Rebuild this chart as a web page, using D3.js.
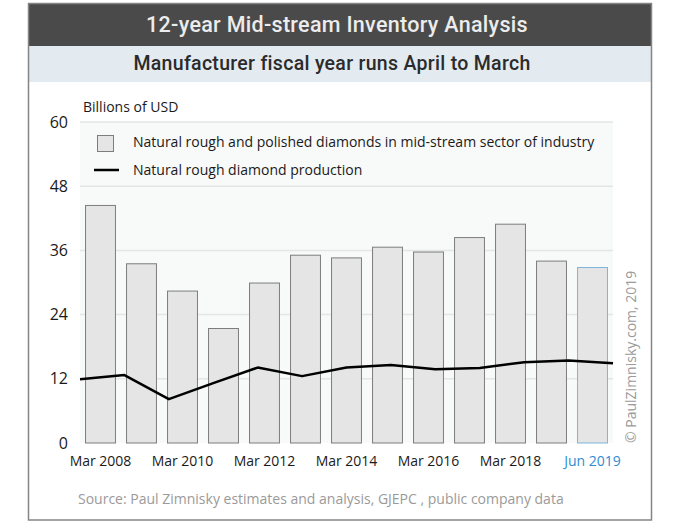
<!DOCTYPE html>
<html>
<head>
<meta charset="utf-8">
<script src="https://cdn.jsdelivr.net/npm/d3@7"></script>
<style>
  html, body { margin: 0; padding: 0; background: #ffffff; }
  svg { display: block; font-family: "Open Sans", "Noto Sans", sans-serif; }
</style>
</head>
<body>
<svg id="chart" width="680" height="526"></svg>
<script>
// ---- data ----
const categories = ["Mar 2008","Mar 2009","Mar 2010","Mar 2011","Mar 2012","Mar 2013","Mar 2014",
                    "Mar 2015","Mar 2016","Mar 2017","Mar 2018","Mar 2019","Jun 2019"];
const inventoryValues = [44.4, 33.5, 28.4, 21.4, 29.9, 35.1, 34.6, 36.6, 35.7, 38.4, 40.9, 34.0, 32.8];
const productionValues = [11.9, 12.7, 8.2, 11.2, 14.1, 12.5, 14.1, 14.6, 13.8, 14.0, 15.1, 15.4, 14.9];
const yTicks = [0, 12, 24, 36, 48, 60];
const xTickLabels = ["Mar 2008","Mar 2010","Mar 2012","Mar 2014","Mar 2016","Mar 2018","Jun 2019"];
const highlightCategory = "Jun 2019";
const titleText = "12-year Mid-stream Inventory Analysis";
const subtitleText = "Manufacturer fiscal year runs April to March";
const unitText = "Billions of USD";
const legendLabels = ["Natural rough and polished diamonds in mid-stream sector of industry",
                      "Natural rough diamond production"];
const sourceText = "Source: Paul Zimnisky estimates and analysis, GJEPC , public company data";
const copyrightText = "\u00A9 PaulZimnisky.com, 2019";

// ---- layout ----
const svg = d3.select("#chart");
const plot = { left: 80, right: 613, top: 122, bottom: 443 };
const frame = { x: 28.5, y: 3.5, w: 623, h: 516.5 };

// frame & header
svg.append("rect").attr("x", frame.x).attr("y", frame.y).attr("width", frame.w).attr("height", 42.5)
  .attr("fill", "#4a4a4a");
svg.append("rect").attr("x", frame.x).attr("y", 46).attr("width", frame.w).attr("height", 36)
  .attr("fill", "#e3eaf0");
svg.append("rect").attr("x", frame.x).attr("y", frame.y).attr("width", frame.w).attr("height", frame.h)
  .attr("fill", "none").attr("stroke", "#858585").attr("stroke-width", 1.5);

svg.append("text").attr("x", 337).attr("y", 31.5).attr("text-anchor", "middle")
  .attr("font-family", "Roboto").attr("fill", "#ececec").attr("font-size", 21.5).attr("font-weight", 500)
  .attr("letter-spacing", 0.3).text(titleText);
svg.append("text").attr("x", 332).attr("y", 70).attr("text-anchor", "middle")
  .attr("font-family", "Roboto").attr("fill", "#2b2b2b").attr("font-size", 19.5).attr("font-weight", 500)
  .attr("letter-spacing", 0.3).text(subtitleText);

// scales
const y = d3.scaleLinear().domain([0, 60]).range([plot.bottom, plot.top]);
const xBand = d3.scaleBand().domain(categories).range([plot.left, plot.right])
  .paddingInner(0.27).paddingOuter(0.135);
const xPoint = d3.scalePoint().domain(categories).range([plot.left, plot.right]).padding(0);

// plot background
svg.append("rect").attr("x", plot.left).attr("y", plot.top)
  .attr("width", plot.right - plot.left).attr("height", plot.bottom - plot.top)
  .attr("fill", "#f8f9f9");

// gridlines
svg.append("g").selectAll("line").data(yTicks.filter(d => d > 0)).join("line")
  .attr("x1", plot.left).attr("x2", plot.right)
  .attr("y1", d => y(d)).attr("y2", d => y(d))
  .attr("stroke", "#e4e6e6").attr("stroke-width", 1.5);

// y axis labels
const yAxis = d3.axisLeft(y).tickValues(yTicks).tickSize(0).tickPadding(12);
const gy = svg.append("g").attr("transform", `translate(${plot.left},0)`).call(yAxis);
gy.select(".domain").remove();
gy.selectAll("text").attr("font-family", "Open Sans").attr("font-size", 16).attr("fill", "#1a1a1a");

svg.append("text").attr("x", 83).attr("y", 112).attr("font-size", 14).attr("fill", "#1a1a1a").text(unitText);

// bars
svg.append("g").selectAll("rect").data(categories).join("rect")
  .attr("x", d => xBand(d)).attr("width", xBand.bandwidth())
  .attr("y", (d, i) => y(inventoryValues[i]))
  .attr("height", (d, i) => y(0) - y(inventoryValues[i]))
  .attr("fill", "#e5e5e5")
  .attr("stroke", d => d === highlightCategory ? "#7db3dd" : "#7d7d7d")
  .attr("stroke-width", 1);

// line
const line = d3.line().x((d, i) => xPoint(categories[i])).y(d => y(d));
svg.append("path").datum(productionValues).attr("d", line)
  .attr("fill", "none").attr("stroke", "#000").attr("stroke-width", 2.5).attr("stroke-linejoin", "round");

// x axis labels
const xAxis = d3.axisBottom(xBand).tickValues(xTickLabels).tickSize(0).tickPadding(13);
const gx = svg.append("g").attr("transform", `translate(0,${plot.bottom})`).call(xAxis);
gx.select(".domain").remove();
gx.selectAll("text").attr("font-family", "Open Sans").attr("font-size", 14)
  .attr("fill", d => d === highlightCategory ? "#2f8bd0" : "#1a1a1a");

// legend
const lg = svg.append("g");
lg.append("rect").attr("x", 97.5).attr("y", 135.5).attr("width", 16).attr("height", 16)
  .attr("fill", "#e5e5e5").attr("stroke", "#7d7d7d");
lg.append("text").attr("x", 133).attr("y", 147).attr("font-size", 14).attr("fill", "#1a1a1a").text(legendLabels[0]);
lg.append("line").attr("x1", 94).attr("x2", 119).attr("y1", 170).attr("y2", 170)
  .attr("stroke", "#000").attr("stroke-width", 2.5);
lg.append("text").attr("x", 133).attr("y", 175).attr("font-size", 14).attr("fill", "#1a1a1a").text(legendLabels[1]);

// copyright (rotated)
svg.append("text").attr("transform", "translate(636,443) rotate(-90)")
  .attr("font-size", 14).attr("fill", "#9a9a9a").text(copyrightText);

// source
svg.append("text").attr("x", 78).attr("y", 504).attr("font-size", 14).attr("fill", "#9a9a9a").text(sourceText);
</script>
</body>
</html>
